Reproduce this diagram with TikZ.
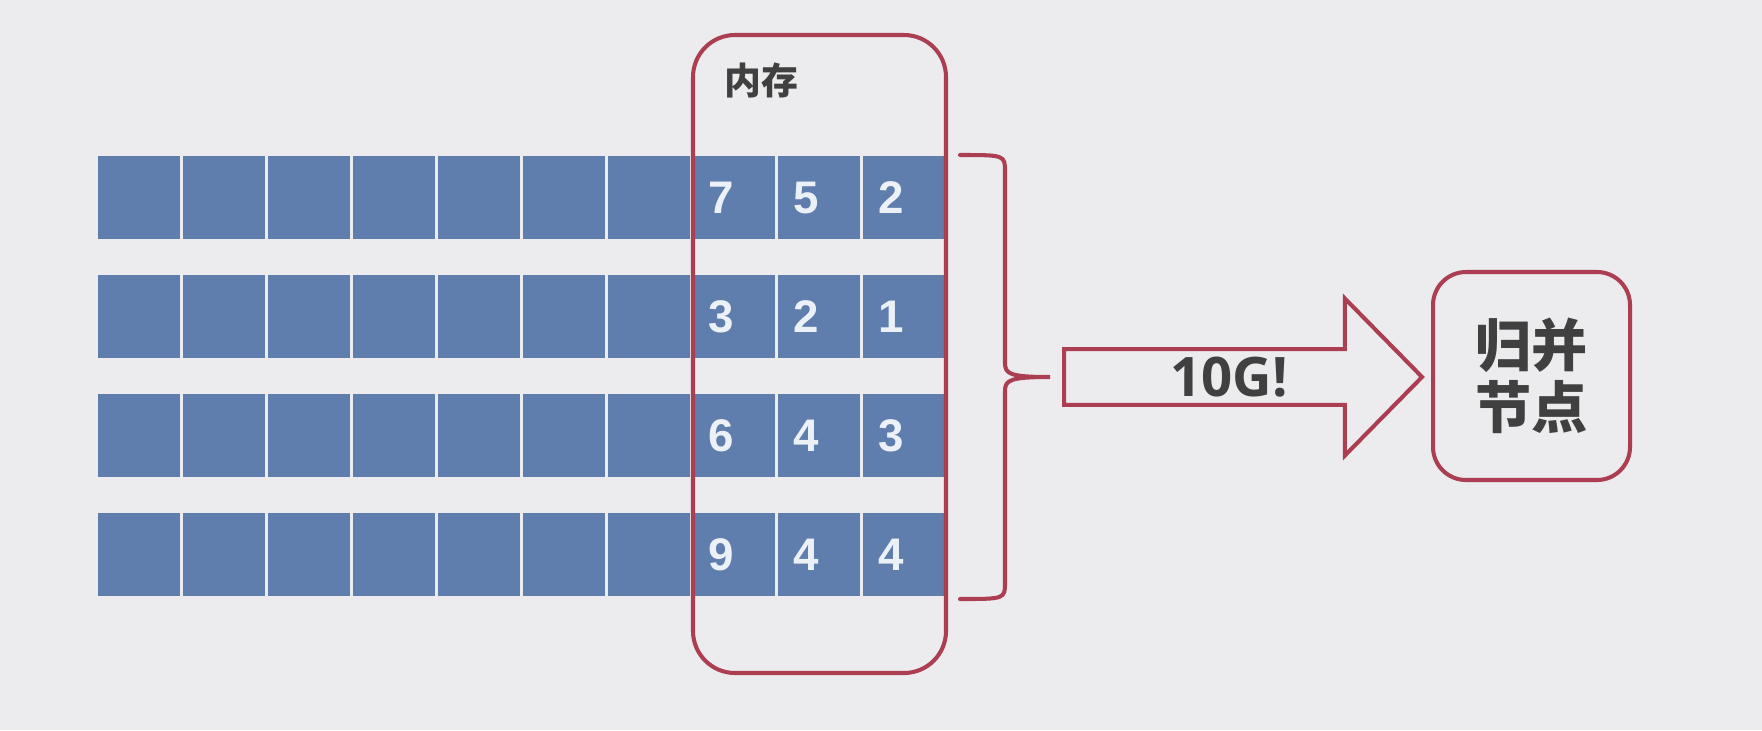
\documentclass[tikz,border=0pt]{standalone}
\usepackage{fontspec}
\setmainfont{Liberation Sans}
\newfontfamily\cjk{Noto Sans CJK SC}
\newfontfamily\opensans{Open Sans}
\usetikzlibrary{shapes.arrows}
\definecolor{bgray}{RGB}{236,235,237}
\definecolor{cellblue}{RGB}{95,126,173}
\definecolor{memred}{RGB}{172,62,82}
\definecolor{txtgray}{RGB}{64,64,64}
\definecolor{numwhite}{RGB}{236,241,247}

\begin{document}
\begin{tikzpicture}[x=1mm, y=-1mm,
    cell/.style={rectangle, fill=cellblue, minimum width=8.2mm, minimum height=8.3mm, inner sep=0pt},
    numcell/.style={cell, inner xsep=1.5mm, text width=5.2mm, align=left, text=numwhite, font=\fontsize{13pt}{13pt}\selectfont\bfseries},
    redline/.style={draw=memred, line width=1.15pt},
    membox/.style={redline, rectangle, rounded corners=4.2mm, minimum width=25.3mm, minimum height=63.8mm},
    bigarrow/.style={redline, fill=bgray, single arrow, single arrow head extend=4mm, single arrow tip angle=91, minimum width=15.7mm, minimum height=35.8mm, inner sep=0pt, text=txtgray, font=\opensans\bfseries\fontsize{15.5pt}{15.5pt}\selectfont},
    mergebox/.style={redline, fill=bgray, rectangle, rounded corners=3.3mm, minimum width=19.7mm, minimum height=20.8mm, align=center, text=txtgray, font=\cjk\bfseries\fontsize{16pt}{17.5pt}\selectfont}]
    \fill[bgray] (0,0) rectangle (176.2,73);
    \useasboundingbox (0,0) rectangle (176.2,73);

    \node (r1c1) at (13.9,19.75) [cell] {};
    \node (r1c2) at (22.4,19.75) [cell] {};
    \node (r1c3) at (30.9,19.75) [cell] {};
    \node (r1c4) at (39.4,19.75) [cell] {};
    \node (r1c5) at (47.9,19.75) [cell] {};
    \node (r1c6) at (56.4,19.75) [cell] {};
    \node (r1c7) at (64.9,19.75) [cell] {};
    \node (r1c8) at (73.4,19.75) [numcell] {7};
    \node (r1c9) at (81.9,19.75) [numcell] {5};
    \node (r1c10) at (90.4,19.75) [numcell] {2};

    \node (r2c1) at (13.9,31.65) [cell] {};
    \node (r2c2) at (22.4,31.65) [cell] {};
    \node (r2c3) at (30.9,31.65) [cell] {};
    \node (r2c4) at (39.4,31.65) [cell] {};
    \node (r2c5) at (47.9,31.65) [cell] {};
    \node (r2c6) at (56.4,31.65) [cell] {};
    \node (r2c7) at (64.9,31.65) [cell] {};
    \node (r2c8) at (73.4,31.65) [numcell] {3};
    \node (r2c9) at (81.9,31.65) [numcell] {2};
    \node (r2c10) at (90.4,31.65) [numcell] {1};

    \node (r3c1) at (13.9,43.55) [cell] {};
    \node (r3c2) at (22.4,43.55) [cell] {};
    \node (r3c3) at (30.9,43.55) [cell] {};
    \node (r3c4) at (39.4,43.55) [cell] {};
    \node (r3c5) at (47.9,43.55) [cell] {};
    \node (r3c6) at (56.4,43.55) [cell] {};
    \node (r3c7) at (64.9,43.55) [cell] {};
    \node (r3c8) at (73.4,43.55) [numcell] {6};
    \node (r3c9) at (81.9,43.55) [numcell] {4};
    \node (r3c10) at (90.4,43.55) [numcell] {3};

    \node (r4c1) at (13.9,55.45) [cell] {};
    \node (r4c2) at (22.4,55.45) [cell] {};
    \node (r4c3) at (30.9,55.45) [cell] {};
    \node (r4c4) at (39.4,55.45) [cell] {};
    \node (r4c5) at (47.9,55.45) [cell] {};
    \node (r4c6) at (56.4,55.45) [cell] {};
    \node (r4c7) at (64.9,55.45) [cell] {};
    \node (r4c8) at (73.4,55.45) [numcell] {9};
    \node (r4c9) at (81.9,55.45) [numcell] {4};
    \node (r4c10) at (90.4,55.45) [numcell] {4};

    \node (mem) at (81.95,35.4) [membox] {};
    \node (memlabel) at (76.1,8.0) [text=txtgray, font=\cjk\bfseries\fontsize{10.5pt}{10.5pt}\selectfont] {内存};

    \coordinate (bracetip) at (105.0,37.7);
    \draw[redline, line cap=round] (96.0,15.5) .. controls (100.5,15.5) .. (100.5,17.2) -- (100.5,36.3)
      .. controls (100.5,37.4) and (101.0,37.7) .. (bracetip)
      .. controls (101.0,37.7) and (100.5,38.0) .. (100.5,39.1) -- (100.5,58.2)
      .. controls (100.5,59.9) .. (96.0,59.9);

    \node (load) at (106.2,37.7) [bigarrow, anchor=tail] {10G!};

    \node (merge) at (153.15,37.6) [mergebox] {归并\\节点};
  \end{tikzpicture}
\end{document}
